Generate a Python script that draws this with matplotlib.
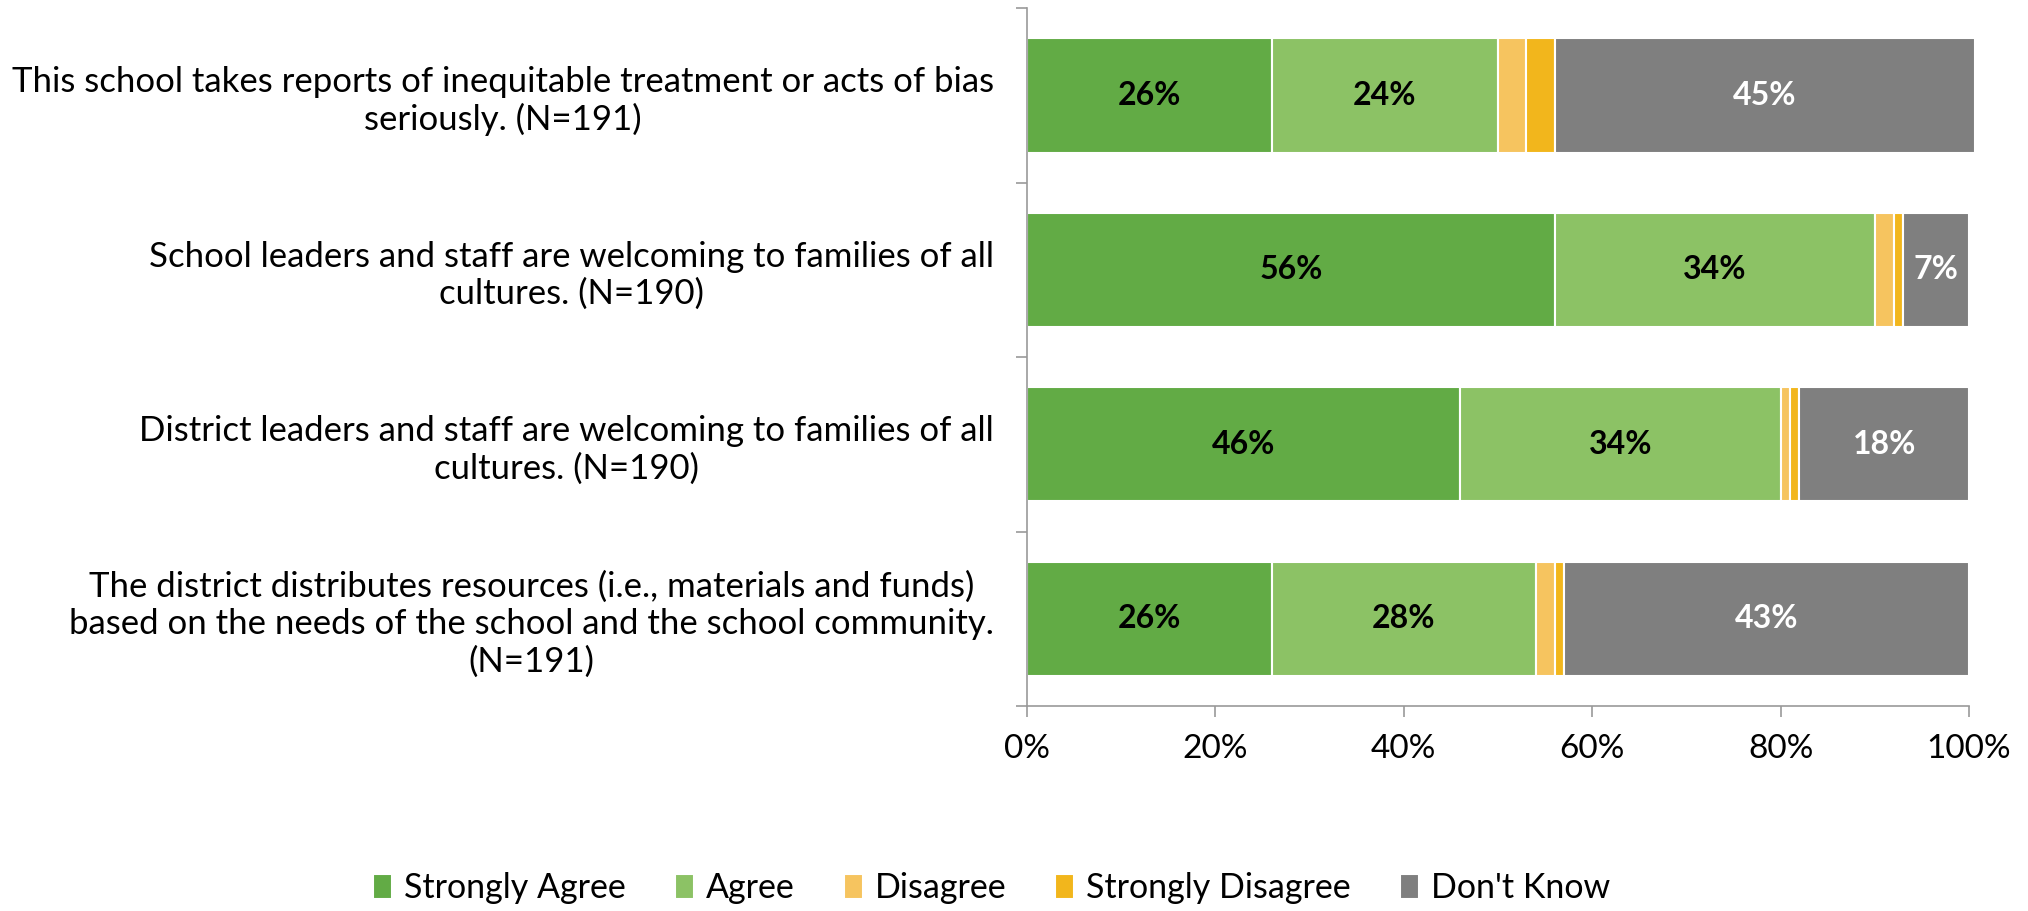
import matplotlib.pyplot as plt
from matplotlib.ticker import FixedLocator, PercentFormatter

plt.rcParams['font.family'] = ['Lato', 'DejaVu Sans']

questions = [
    "This school takes reports of inequitable treatment or acts of bias\nseriously. (N=191)",
    "School leaders and staff are welcoming to families of all\ncultures. (N=190)",
    "District leaders and staff are welcoming to families of all\ncultures. (N=190)",
    "The district distributes resources (i.e., materials and funds)\nbased on the needs of the school and the school community.\n(N=191)",
]
series = ["Strongly Agree", "Agree", "Disagree", "Strongly Disagree", "Don't Know"]
strongly_agree = [26, 56, 46, 26]
agree = [24, 34, 34, 28]
disagree = [3, 2, 1, 2]
strongly_disagree = [3, 1, 1, 1]
dont_know = [44.6, 7, 18, 43]

colors = ["#62AB45", "#8CC265", "#F6C45F", "#F2B61C", "#7F7F7F"]
label_colors = ["black", "black", None, None, "white"]

values = [strongly_agree, agree, disagree, strongly_disagree, dont_know]

fig = plt.figure(figsize=(20.28, 9.11), dpi=100)
ax = fig.add_axes([0.5064, 0.225, 0.4645, 0.766])

ypos = list(range(len(questions)))
left = [0] * len(questions)
for name, vals, col, lc in zip(series, values, colors, label_colors):
    bars = ax.barh(ypos, vals, left=left, height=0.655, color=col,
                   edgecolor="white", linewidth=1.5, label=name, clip_on=False)
    if lc is not None:
        for b, v in zip(bars, vals):
            ax.text(b.get_x() + b.get_width() / 2, b.get_y() + b.get_height() / 2,
                    f"{v:.0f}%", ha="center", va="center", color=lc,
                    fontsize=23, fontweight="bold")
    left = [l + v for l, v in zip(left, vals)]

ax.set_xlim(0, 100)
ax.set_ylim(len(questions) - 0.5, -0.5)
ax.xaxis.set_major_formatter(PercentFormatter(100, decimals=0))
ax.set_xticks(range(0, 101, 20))

ax.set_yticks(ypos)
ax.set_yticklabels(questions)
ax.yaxis.set_minor_locator(FixedLocator([i - 0.5 for i in range(len(questions) + 1)]))
ax.tick_params(axis="y", which="major", length=0, pad=24, labelsize=25)
ax.tick_params(axis="y", which="minor", length=8, width=1.2, color="#999999")
ax.tick_params(axis="x", length=8, width=1.2, color="#999999", labelsize=24, pad=12)
for lab in ax.get_yticklabels():
    lab.set_multialignment("center")

for s in ["top", "right"]:
    ax.spines[s].set_visible(False)
for s in ["left", "bottom"]:
    ax.spines[s].set_color("#999999")
    ax.spines[s].set_linewidth(1.2)

fig.legend(loc="center", bbox_to_anchor=(0.489, 0.025), ncol=5, frameon=False,
           fontsize=24.5, handlelength=0.55, handleheight=0.75, handletextpad=0.35,
           columnspacing=1.45)

fig.savefig("out.png", dpi=100)
